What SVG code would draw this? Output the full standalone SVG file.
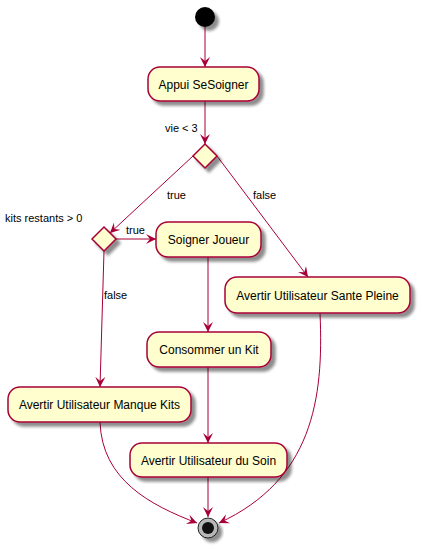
<svg xmlns="http://www.w3.org/2000/svg" width="423" height="549" viewBox="0 0 423 549">
<defs>
<filter id="sh" x="-20%" y="-20%" width="150%" height="160%">
<feGaussianBlur in="SourceAlpha" stdDeviation="1.8"/>
<feOffset dx="4" dy="4" result="b"/>
<feComponentTransfer><feFuncA type="linear" slope="0.45"/></feComponentTransfer>
<feMerge><feMergeNode/><feMergeNode in="SourceGraphic"/></feMerge>
</filter>
<marker id="ah" markerWidth="12" markerHeight="10" refX="10" refY="5" orient="auto" markerUnits="userSpaceOnUse">
<path d="M0,0 L10,5 L0,10 L4,5 Z" fill="#A80036"/>
</marker>
</defs>
<style>
.box{fill:#FEFECE;stroke:#A80036;stroke-width:1.5;filter:url(#sh)}
.t{font-family:"Liberation Sans",Arial,sans-serif;font-size:12px;fill:#000;text-anchor:middle}
.l{font-family:"Liberation Sans",Arial,sans-serif;font-size:11px;fill:#000}
.c{fill:none;stroke:#A80036;stroke-width:1;marker-end:url(#ah)}
</style>
<g id="connectors">
<path class="c" d="M205,27 L205,67"/>
<path class="c" d="M205,101 L205,144"/>
<path class="c" d="M193,156 L110,233"/>
<path class="c" d="M217,156 L308,277"/>
<path class="c" d="M116,239 L156,239"/>
<path class="c" d="M104,251 L100,387"/>
<path class="c" d="M208,257 L208,332"/>
<path class="c" d="M208,367 L208,443"/>
<path class="c" d="M208,477 L208,517"/>
<path class="c" d="M100,422 C102,480 150,505 197,523"/>
<path class="c" d="M320,313 C324,400 312,480 219,523"/>
<text class="l" x="165" y="132">vie &lt; 3</text>
<text class="l" x="167" y="199">true</text>
<text class="l" x="253" y="199">false</text>
<text class="l" x="5" y="222">kits restants &gt; 0</text>
<text class="l" x="126" y="234">true</text>
<text class="l" x="104" y="299">false</text>
</g>
<g id="start"><circle cx="205" cy="17" r="10" fill="#000" filter="url(#sh)"/></g>
<g id="appui"><rect class="box" x="148" y="67" width="111" height="34" rx="12"/><text class="t" x="203.5" y="88.5">Appui SeSoigner</text></g>
<g id="d1"><polygon class="box" points="205,144 217,156 205,168 193,156"/></g>
<g id="d2"><polygon class="box" points="104,227 116,239 104,251 92,239"/></g>
<g id="soigner"><rect class="box" x="156" y="222" width="105" height="35" rx="12"/><text class="t" x="208.5" y="244">Soigner Joueur</text></g>
<g id="sante"><rect class="box" x="225" y="277" width="185" height="36" rx="12"/><text class="t" x="317.5" y="299.5">Avertir Utilisateur Sante Pleine</text></g>
<g id="consommer"><rect class="box" x="147" y="332" width="124" height="35" rx="12"/><text class="t" x="209" y="354">Consommer un Kit</text></g>
<g id="manque"><rect class="box" x="8" y="387" width="183" height="35" rx="12"/><text class="t" x="99.5" y="409">Avertir Utilisateur Manque Kits</text></g>
<g id="soin"><rect class="box" x="130" y="443" width="157" height="34" rx="12"/><text class="t" x="208.5" y="464.5">Avertir Utilisateur du Soin</text></g>
<g id="end"><circle cx="208" cy="528" r="10" fill="#b8b8b8" stroke="#222" stroke-width="1" filter="url(#sh)"/><circle cx="208" cy="528" r="6" fill="#111"/></g>
</svg>
